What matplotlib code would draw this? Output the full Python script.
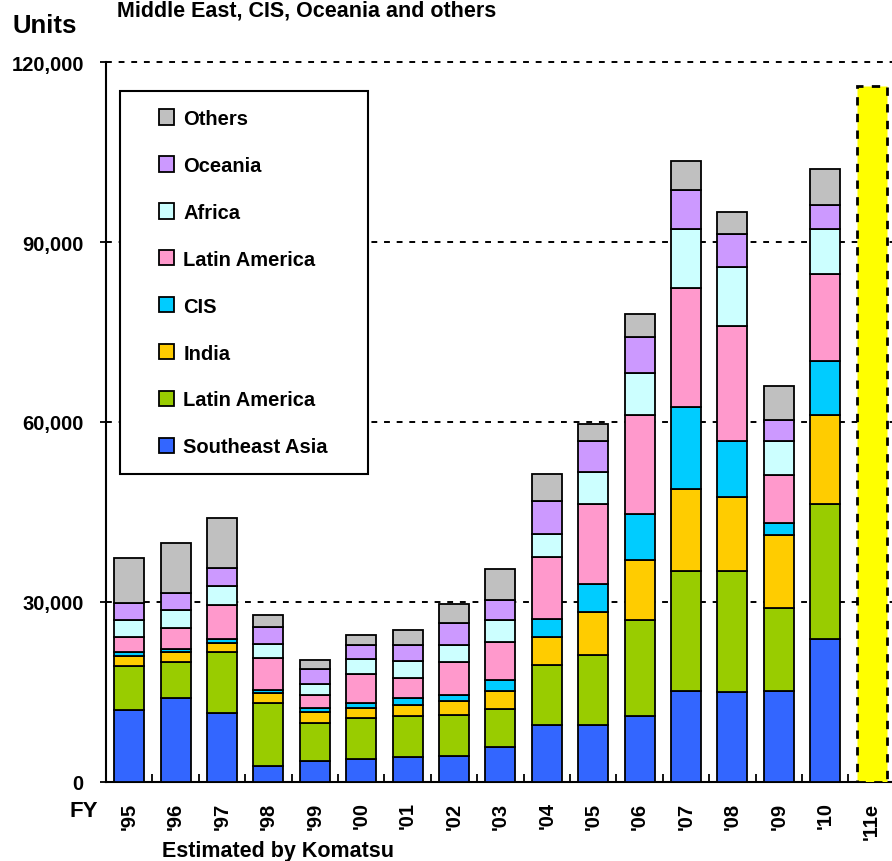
import matplotlib
matplotlib.use('Agg')
import matplotlib.pyplot as plt
from matplotlib.patches import Patch, Rectangle
from matplotlib.legend_handler import HandlerPatch
import numpy as np

plt.rcParams['font.family'] = ['Liberation Sans', 'DejaVu Sans']
plt.rcParams['font.weight'] = 'bold'

years = ["'95", "'96", "'97", "'98", "'99", "'00", "'01", "'02",
         "'03", "'04", "'05", "'06", "'07", "'08", "'09", "'10"]
est_label = "'11e"
est_total = 116000

southeast_asia = [12000, 14000, 11450, 2650, 3550, 3900, 4150, 4400,
                  5850, 9550, 9550, 11050, 15200, 15000, 15200, 23800]
latin_america_g = [7300, 5950, 10150, 10500, 6250, 6700, 6800, 6800,
                   6300, 10000, 11700, 15950, 20000, 20200, 13750, 22600]
india = [1700, 1650, 1650, 1650, 1950, 1700, 1900, 2250,
         3100, 4600, 7100, 10000, 13700, 12250, 12250, 14700]
cis = [700, 550, 550, 550, 550, 850, 1200, 1100,
       1700, 3050, 4600, 7600, 13600, 9450, 2000, 9150]
latin_america_p = [2450, 3450, 5700, 5400, 2250, 4800, 3350, 5400,
                   6350, 10250, 13400, 16500, 19900, 19100, 7950, 14500]
africa = [2900, 3050, 3150, 2200, 1750, 2550, 2850, 2900,
          3700, 3950, 5400, 7100, 9700, 9900, 5750, 7400]
oceania = [2800, 2850, 3100, 2900, 2550, 2350, 2550, 3700,
           3300, 5500, 5050, 6000, 6550, 5400, 3400, 3950]
others = [7450, 8300, 8200, 2000, 1450, 1700, 2600, 3100,
          5250, 4500, 2900, 3750, 4850, 3700, 5700, 6100]

series = [('Southeast Asia', southeast_asia, '#3366FF'),
          ('Latin America', latin_america_g, '#99CC00'),
          ('India', india, '#FFCC00'),
          ('CIS', cis, '#00CCFF'),
          ('Latin America', latin_america_p, '#FF99CC'),
          ('Africa', africa, '#CCFFFF'),
          ('Oceania', oceania, '#CC99FF'),
          ('Others', others, '#C0C0C0')]

yticks = [0, 30000, 60000, 90000, 120000]


def square_handle(legend, orig_handle, xdescent, ydescent, width, height, fontsize):
    # small square pushed to the right end of the handle box
    s = 11
    return Rectangle((-xdescent + width - s, -ydescent + (height - s) / 2), s, s)


W, H = 892, 862
fig = plt.figure(figsize=(W / 100, H / 100), dpi=100)
ax = fig.add_axes([106 / W, 1 - 783 / H, (W - 106) / W, 720 / H])

x = np.arange(len(years))
bw = 0.65
bottom = np.zeros(len(years))
for name, vals, col in series:
    ax.bar(x, vals, bw, bottom=bottom, color=col, edgecolor='black',
           linewidth=1.3, zorder=3)
    bottom += np.array(vals)

# estimate bar for '11
ax.bar(len(years), est_total, bw, color='#FFFF00', edgecolor='black',
       linewidth=2, linestyle=(0, (3, 3)), zorder=3)

ax.set_xlim(-0.5, 16.44)
ax.set_ylim(0, 120000)

for v in yticks[1:]:
    ax.axhline(v, color='black', lw=1.4, ls=(0, (3, 3.5)), zorder=1, clip_on=False)

for s in ['top', 'right']:
    ax.spines[s].set_visible(False)
for s in ['left', 'bottom']:
    ax.spines[s].set_linewidth(1.5)

ax.set_yticks(yticks)
ax.set_yticklabels([f'{v:,}' for v in yticks], fontsize=14.5)
ax.tick_params(axis='y', direction='out', length=4, width=1.3, pad=12)

labels = years + [est_label]
ax.set_xticks(np.arange(len(labels)))
ax.set_xticklabels(labels, rotation=90, fontsize=14.5, va='top')
ax.tick_params(axis='x', which='major', length=0, pad=14)
ax.set_xticks(np.arange(len(labels)) - 0.5, minor=True)
ax.tick_params(axis='x', which='minor', direction='in', length=6, width=1.3)

handles = [Patch(facecolor=c, edgecolor='black', linewidth=1.3, label=n)
           for n, v, c in series[::-1]]
leg = ax.legend(handles=handles, loc='upper left',
                bbox_to_anchor=(14 / 786, (783 - 92) / 720, 248 / 786, 0.0),
                mode='expand', fontsize=14.5, frameon=True, fancybox=False,
                edgecolor='black', framealpha=1, borderpad=0.9,
                labelspacing=1.385, handlelength=1.8, handleheight=0.7,
                handletextpad=0.45, borderaxespad=0,
                handler_map={Patch: HandlerPatch(patch_func=square_handle)})
leg.get_frame().set_linewidth(1.5)
leg.set_zorder(5)

fig.text(12 / W, 1 - 33 / H, 'Units', fontsize=18.5, va='baseline', ha='left')
fig.text(117 / W, 1 - 17 / H, 'Middle East, CIS, Oceania and others',
         fontsize=15.5, va='baseline', ha='left')
fig.text(98 / W, 1 - 812 / H, 'FY', fontsize=16, va='center', ha='right')
fig.text(162 / W, 1 - 857 / H, 'Estimated by Komatsu', fontsize=15.5,
         va='baseline', ha='left')

fig.savefig('out.png', dpi=100)
